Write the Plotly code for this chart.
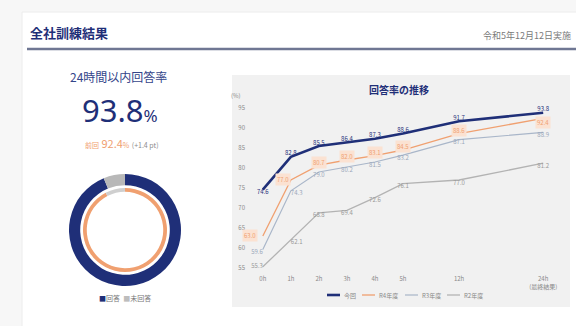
import plotly.graph_objects as go

# ---------------- data ----------------
x_labels = ["0h", "1h", "2h", "3h", "4h", "5h", "12h", "24h<br>(最終結果)"]
x_pos = [0, 1, 2, 3, 4, 5, 7, 10]
series_names = ["今回", "R4年度", "R3年度", "R2年度"]
s_now = [74.6, 82.8, 85.5, 86.4, 87.3, 88.6, 91.7, 93.8]
s_prev = [63.0, 77.0, 80.7, 82.0, 83.1, 84.5, 88.6, 92.4]
s_prev2 = [59.6, 74.3, 79.0, 80.2, 81.5, 83.2, 87.1, 88.9]
s_prev3 = [55.3, 62.1, 68.8, 69.4, 72.6, 76.1, 77.0, 81.2]
y_ticks = [55, 60, 65, 70, 75, 80, 85, 90, 95]

rate_now = 93.8
rate_prev = 92.4
diff_pt = 1.4
donut_labels = ["回答", "未回答"]

# ---------------- style ----------------
W, H = 576, 326
NAVY = "#1f2f78"
ORANGE = "#f0a070"
BLUE_GRAY = "#a9b6c9"
GRAY = "#b3b3b3"
FONT = "Noto Sans CJK JP"


def px(x):
    return x / W


def py(y):
    return 1 - y / H


fig = go.Figure()

# donuts
cx, cy, r_out, r_in = 125, 230, 56, 42
fig.add_trace(go.Pie(
    values=[rate_now, 100 - rate_now], labels=donut_labels,
    marker=dict(colors=[NAVY, "#b8b8b8"], line=dict(width=0)),
    hole=0.8, sort=False, direction="clockwise", rotation=0,
    textinfo="none", hoverinfo="skip", showlegend=False,
    domain=dict(x=[px(cx - r_out), px(cx + r_out)], y=[py(cy + r_out), py(cy - r_out)])))
fig.add_trace(go.Pie(
    values=[rate_prev, 100 - rate_prev], labels=donut_labels,
    marker=dict(colors=[ORANGE, "#cfcfcf"], line=dict(width=0)),
    hole=0.91, sort=False, direction="clockwise", rotation=0,
    textinfo="none", hoverinfo="skip", showlegend=False,
    domain=dict(x=[px(cx - r_in), px(cx + r_in)], y=[py(cy + r_in), py(cy - r_in)])))

# lines
fmt = lambda arr: [f"{v:.1f}" for v in arr]
fig.add_trace(go.Scatter(
    x=x_pos, y=s_prev3, mode="lines+text", name=series_names[3],
    line=dict(color=GRAY, width=1.3), text=fmt(s_prev3),
    textposition=["middle left"] + ["bottom right"] + ["bottom center"] * 6,
    textfont=dict(size=6, color="#999999"), cliponaxis=False))
fig.add_trace(go.Scatter(
    x=x_pos, y=s_prev2, mode="lines+text", name=series_names[2],
    line=dict(color=BLUE_GRAY, width=1.2), text=fmt(s_prev2),
    textposition=["bottom left", "bottom right"] + ["bottom center"] * 6,
    textfont=dict(size=6, color="#9aa7ba"), cliponaxis=False))
fig.add_trace(go.Scatter(
    x=x_pos, y=s_prev, mode="lines", name=series_names[1],
    line=dict(color=ORANGE, width=1.3), cliponaxis=False))
fig.add_trace(go.Scatter(
    x=x_pos, y=s_now, mode="lines+text", name=series_names[0],
    line=dict(color=NAVY, width=2.6), text=fmt(s_now),
    textposition=["bottom center"] + ["top center"] * 7,
    textfont=dict(size=6, color=NAVY), cliponaxis=False))

annotations = []
# orange labels with pale boxes near the orange line
n = len(x_pos)
for i, (xv, yv) in enumerate(zip(x_pos, s_prev)):
    if i == 0:
        xs, ys = -13, 0
    elif i == 1:
        xs, ys = -8, 0
    elif i == n - 1:
        xs, ys = 0, -4
    else:
        xs, ys = 0, 3
    annotations.append(dict(
        x=xv, y=yv, xref="x", yref="y", text=f"{yv:.1f}", showarrow=False,
        font=dict(size=6, color=ORANGE, family=FONT), bgcolor="#fbe2d2",
        borderpad=1, xshift=xs, yshift=ys))

# texts
annotations += [
    dict(x=px(28), y=py(33), text="<b>全社訓練結果</b>", xanchor="left",
         font=dict(size=13, color=NAVY, family=FONT)),
    dict(x=px(481), y=py(35), text="令和5年12月12日実施", xanchor="left",
         font=dict(size=9, color="#7a7a7a", family=FONT)),
    dict(x=px(118), y=py(76), text="24時間以内回答率",
         font=dict(size=12, color="#34458a", family=FONT)),
    dict(x=px(120), y=py(110),
         text=f"{rate_now:.1f}<span style='font-size:17px'>%</span>",
         font=dict(size=31, color=NAVY, family="Noto Sans")),
    dict(x=px(122), y=py(143),
         text=(f"<span style='font-size:7px'>前回</span> {rate_prev:.1f}"
               f"<span style='font-size:7px'>%</span> "
               f"<span style='font-size:7px;color:#8c8c8c'>(+{diff_pt:.1f} pt)</span>"),
         font=dict(size=11, color=ORANGE, family=FONT)),
    dict(x=px(125), y=py(298),
         text=(f"<span style='color:{NAVY}'>■</span>{donut_labels[0]}  "
               f"<span style='color:#bdbdbd'>■</span>{donut_labels[1]}"),
         font=dict(size=7, color="#777777", family=FONT)),
    dict(x=px(399), y=py(90), text="<b>回答率の推移</b>",
         font=dict(size=10, color=NAVY, family=FONT)),
    dict(x=px(243), y=py(95), text="(%)", xanchor="right",
         font=dict(size=6, color="#8a8a8a", family=FONT)),
]

shapes = [
    dict(type="rect", xref="paper", yref="paper", x0=px(22), x1=px(590),
         y0=py(340), y1=py(12), fillcolor="white",
         line=dict(color="#ececec", width=1), layer="below"),
    dict(type="line", xref="paper", yref="paper", x0=px(27), x1=px(590),
         y0=py(49), y1=py(49), line=dict(color="#6f7793", width=2.5)),
    dict(type="rect", xref="paper", yref="paper", x0=px(232), x1=px(570),
         y0=py(307), y1=py(75), fillcolor="#f1f1f1",
         line=dict(width=0), layer="below"),
]

# manual legend
leg_colors = [NAVY, ORANGE, BLUE_GRAY, GRAY]
leg_widths = [2.6, 1.3, 1.2, 1.3]
leg_x = [327, 362, 405, 447]
for name, col, lw, lx in zip(series_names, leg_colors, leg_widths, leg_x):
    shapes.append(dict(type="line", xref="paper", yref="paper",
                       x0=px(lx), x1=px(lx + 13), y0=py(295), y1=py(295),
                       line=dict(color=col, width=lw)))
    annotations.append(dict(x=px(lx + 15), y=py(295), text=name, xanchor="left",
                            font=dict(size=6, color="#888888", family=FONT)))

for a in annotations:
    a.setdefault("showarrow", False)
    a.setdefault("xref", "paper")
    a.setdefault("yref", "paper")
    a.setdefault("xanchor", "center")
    a.setdefault("yanchor", "middle")

fig.update_layout(
    width=W, height=H, margin=dict(l=0, r=0, t=0, b=0),
    paper_bgcolor="#f7f7f7", plot_bgcolor="rgba(0,0,0,0)",
    showlegend=False, font=dict(family=FONT),
    xaxis=dict(domain=[px(246), px(560)], range=[-0.6, 10.6],
               tickvals=x_pos, ticktext=x_labels, showgrid=False, zeroline=False,
               showline=False, ticks="", tickfont=dict(size=6, color="#8a8a8a")),
    yaxis=dict(domain=[py(274), py(92)], range=[53.5, 99],
               tickvals=y_ticks, showgrid=False, zeroline=False, showline=False,
               ticks="", tickfont=dict(size=6, color="#8a8a8a")),
    annotations=annotations, shapes=shapes,
)

fig.write_html("out.html")
